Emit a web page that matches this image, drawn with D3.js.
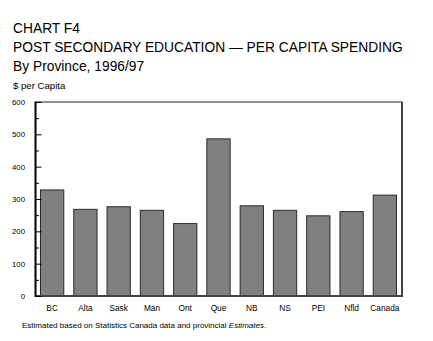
<!DOCTYPE html>
<html><head><meta charset="utf-8">
<script src="https://cdn.jsdelivr.net/npm/d3@7"></script>
<style>body{margin:0;background:#fff}svg{display:block}text{font-family:"Liberation Sans",Arial,sans-serif;fill:#000}</style>
</head><body>
<script>
const categories = ["BC","Alta","Sask","Man","Ont","Que","NB","NS","PEI","Nfld","Canada"];
const values = [328, 268, 276, 265, 224, 486, 279, 265, 248, 261, 312];
const yTicks = [0,100,200,300,400,500,600];
const titleLines = ["CHART F4","POST SECONDARY EDUCATION \u2014 PER CAPITA SPENDING","By Province, 1996/97"];
const yLabel = "$ per Capita";

const W=433,H=341;
const svg=d3.select("body").append("svg").attr("width",W).attr("height",H);
const m={l:35.5,r:401.5,t:102,b:296};
const x=d3.scaleBand().domain(categories).range([m.l,m.r]).paddingInner(0.3).paddingOuter(0.15);
const y=d3.scaleLinear().domain([0,600]).range([m.b,m.t]);

titleLines.forEach((t,i)=>svg.append("text").attr("x",13).attr("y",33.3+i*18.7).attr("font-size",13.8).text(t));
svg.append("text").attr("x",13).attr("y",88.5).attr("font-size",9.6).text(yLabel);

// frame top and right
svg.append("line").attr("x1",m.l).attr("x2",m.r+1).attr("y1",m.t).attr("y2",m.t).attr("stroke","#222").attr("stroke-width",1);
svg.append("line").attr("x1",m.r+0.5).attr("x2",m.r+0.5).attr("y1",m.t).attr("y2",m.b).attr("stroke","#444").attr("stroke-width",2);

svg.selectAll("rect.bar").data(categories).enter().append("rect").attr("class","bar")
 .attr("x",d=>x(d)).attr("width",x.bandwidth())
 .attr("y",(d,i)=>y(values[i])).attr("height",(d,i)=>m.b-y(values[i]))
 .attr("fill","#808080").attr("stroke","#2a2a2a").attr("stroke-width",1);

// bottom baseline
svg.append("line").attr("x1",m.l).attr("x2",m.r+1.5).attr("y1",m.b).attr("y2",m.b).attr("stroke","#444").attr("stroke-width",2);

// left axis
const yAxis=d3.axisLeft(y).tickValues(yTicks).tickSize(-6).tickPadding(10).tickFormat(d3.format("d"));
const ga=svg.append("g").attr("transform",`translate(${m.l},0)`).call(yAxis);
ga.select(".domain").remove();
ga.selectAll(".tick line").attr("stroke","#000").attr("stroke-width",1);
ga.selectAll(".tick text").attr("font-size",7.8).attr("font-family","Liberation Sans,Arial,sans-serif").attr("fill","#000").attr("x",-10.5);
const minor=d3.range(50,600,100);
svg.selectAll("line.minor").data(minor).enter().append("line").attr("class","minor")
 .attr("x1",m.l).attr("x2",m.l+3.5).attr("y1",d=>y(d)+0.5).attr("y2",d=>y(d)+0.5).attr("stroke","#000");
svg.append("line").attr("x1",m.l).attr("x2",m.l).attr("y1",m.t-0.5).attr("y2",m.b+1).attr("stroke","#000").attr("stroke-width",2);

// x labels
const xa=d3.axisBottom(x).tickSize(0).tickPadding(9);
const gx=svg.append("g").attr("transform",`translate(0,${m.b})`).call(xa);
gx.select(".domain").remove();
gx.selectAll(".tick text").attr("font-size",8.3).attr("font-family","Liberation Sans,Arial,sans-serif").attr("fill","#000");

const fn=svg.append("text").attr("x",22).attr("y",327.5).attr("font-size",8);
fn.append("tspan").text("Estimated based on Statistics Canada data and provincial ");
fn.append("tspan").attr("font-style","italic").text("Estimates");
fn.append("tspan").text(".");
</script>
</body></html>
